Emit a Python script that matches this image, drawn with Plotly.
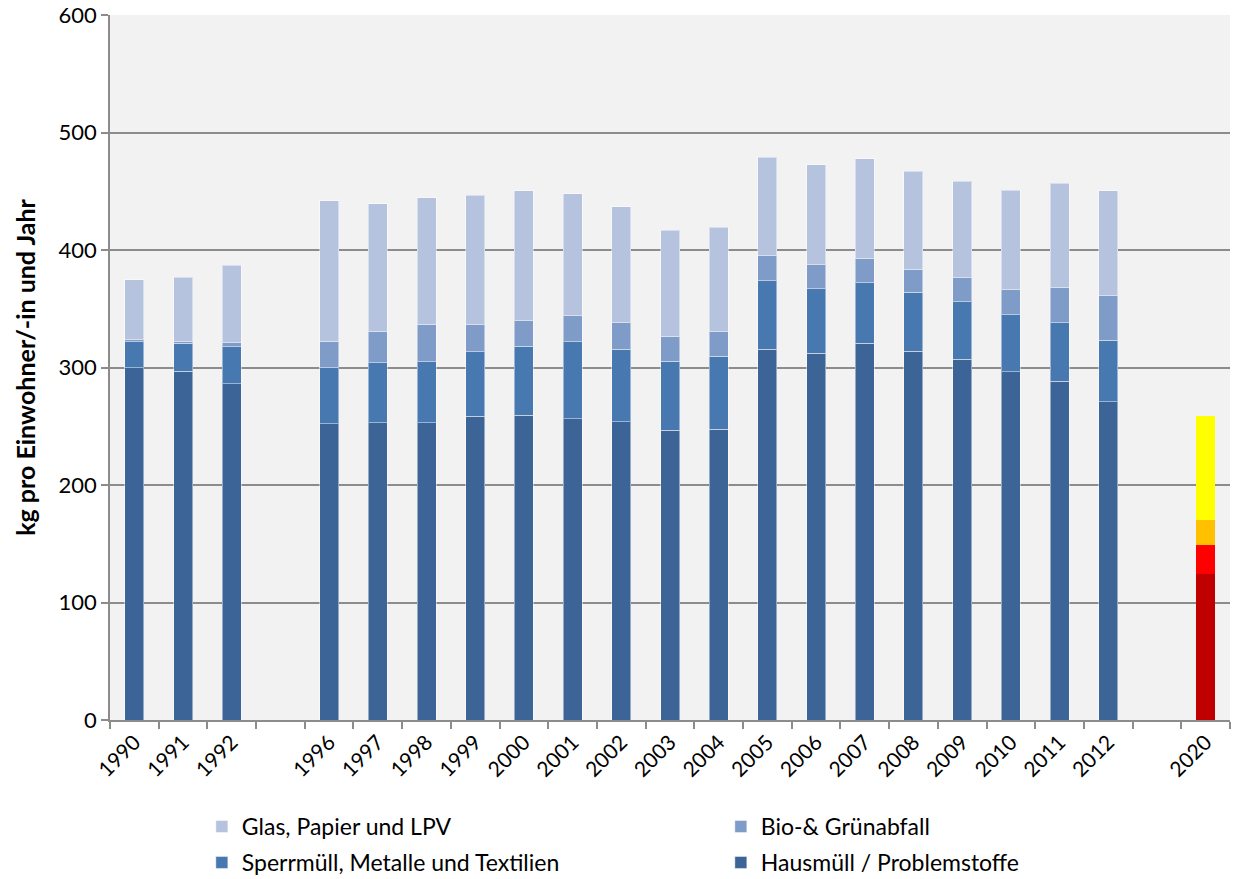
import plotly.graph_objects as go

categories = ["1990", "1991", "1992", " ", "1996", "1997", "1998", "1999", "2000", "2001",
              "2002", "2003", "2004", "2005", "2006", "2007", "2008", "2009", "2010",
              "2011", "2012", "  ", "2020"]

years = ["1990", "1991", "1992", "1996", "1997", "1998", "1999", "2000", "2001", "2002",
         "2003", "2004", "2005", "2006", "2007", "2008", "2009", "2010", "2011", "2012"]

hausmuell = [300, 297, 286, 252, 253, 253, 258.5, 259.5, 256.5, 254,
             246.5, 247.5, 315.5, 312, 320.5, 314, 307, 296.5, 288.5, 271]
sperrmuell = [22, 23.5, 31.5, 48, 51, 52, 55, 58.5, 65.5, 61.5,
              59, 62, 58.5, 55, 51.5, 50, 49, 48.5, 49.5, 52]
bio = [1.5, 1.5, 3.5, 22.5, 27, 32, 23, 22, 22, 22.5,
       21, 21, 21, 20.5, 21, 19.5, 20.5, 21, 30.5, 38]
glas = [51, 55, 66, 119.5, 108.5, 107.5, 110, 110.5, 104, 99,
        90.5, 89, 84, 85, 84.5, 83.5, 82, 85, 88.5, 89.5]

target_year = ["2020"]
target_segments = [124, 25, 21, 89]

series_names = ["Hausmüll / Problemstoffe", "Sperrmüll, Metalle und Textilien",
                "Bio-& Grünabfall", "Glas, Papier und LPV"]
series_values = [hausmuell, sperrmuell, bio, glas]
series_colors = ["#3C6496", "#4878B0", "#7F9CC8", "#B6C3DE"]
series_legends = ["legend2", "legend2", "legend", "legend"]
legend_ranks = [2, 1, 2, 1]
target_colors = ["#C00000", "#FF0000", "#FFC000", "#FFFF00"]

y_ticks = [0, 100, 200, 300, 400, 500, 600]

fig = go.Figure()
for name, vals, col, lg, rk in zip(series_names, series_values, series_colors,
                                   series_legends, legend_ranks):
    fig.add_trace(go.Bar(
        x=years, y=vals, name=name, marker_color=col,
        marker_line=dict(color="rgba(255,255,255,0.45)", width=1),
        legend=lg, legendrank=rk,
    ))
for val, col in zip(target_segments, target_colors):
    fig.add_trace(go.Bar(
        x=target_year, y=[val], marker_color=col, marker_line_width=0,
        showlegend=False,
    ))

font_family = "Lato, 'Open Sans', sans-serif"
legend_common = dict(
    orientation="h", x=0.082, xanchor="left", yanchor="top",
    entrywidth=474, entrywidthmode="pixels",
    font=dict(size=23), itemclick=False, traceorder="normal",
    bgcolor="rgba(0,0,0,0)",
)
fig.update_layout(
    barmode="stack",
    bargap=0.61,
    width=1233, height=879,
    margin=dict(l=110, r=3, t=15, b=159, autoexpand=False),
    paper_bgcolor="white",
    plot_bgcolor="#F2F2F2",
    font=dict(family=font_family, size=22, color="#000000"),
    legend=dict(legend_common, y=-0.1206),
    legend2=dict(legend_common, y=-0.1716),
    xaxis=dict(
        type="category", categoryorder="array", categoryarray=categories,
        tickmode="array", tickvals=categories, ticktext=categories,
        tickangle=-45, tickson="boundaries", ticks="outside", ticklen=7,
        tickcolor="#8C8C8C", tickwidth=1.5, automargin=False,
        showline=True, linecolor="#8C8C8C", linewidth=1.5,
        showgrid=False, tickfont=dict(size=21), ticklabeloverflow="allow",
        range=[-0.5, len(categories) - 0.5],
    ),
    yaxis=dict(
        range=[0, 600], tickvals=y_ticks, ticks="outside", ticklen=7,
        tickcolor="#8C8C8C", tickwidth=1.5, automargin=False,
        showline=True, linecolor="#8C8C8C", linewidth=1.5,
        showgrid=True, gridcolor="#8C8C8C", gridwidth=1.5,
        tickfont=dict(size=22), zeroline=False, ticklabeloverflow="allow",
        title=dict(text="<b>kg pro Einwohner/-in und Jahr</b>", font=dict(size=25), standoff=16),
    ),
)

fig.write_html("out.html", config={"displayModeBar": False},
               post_script="document.body.style.margin='0';")
